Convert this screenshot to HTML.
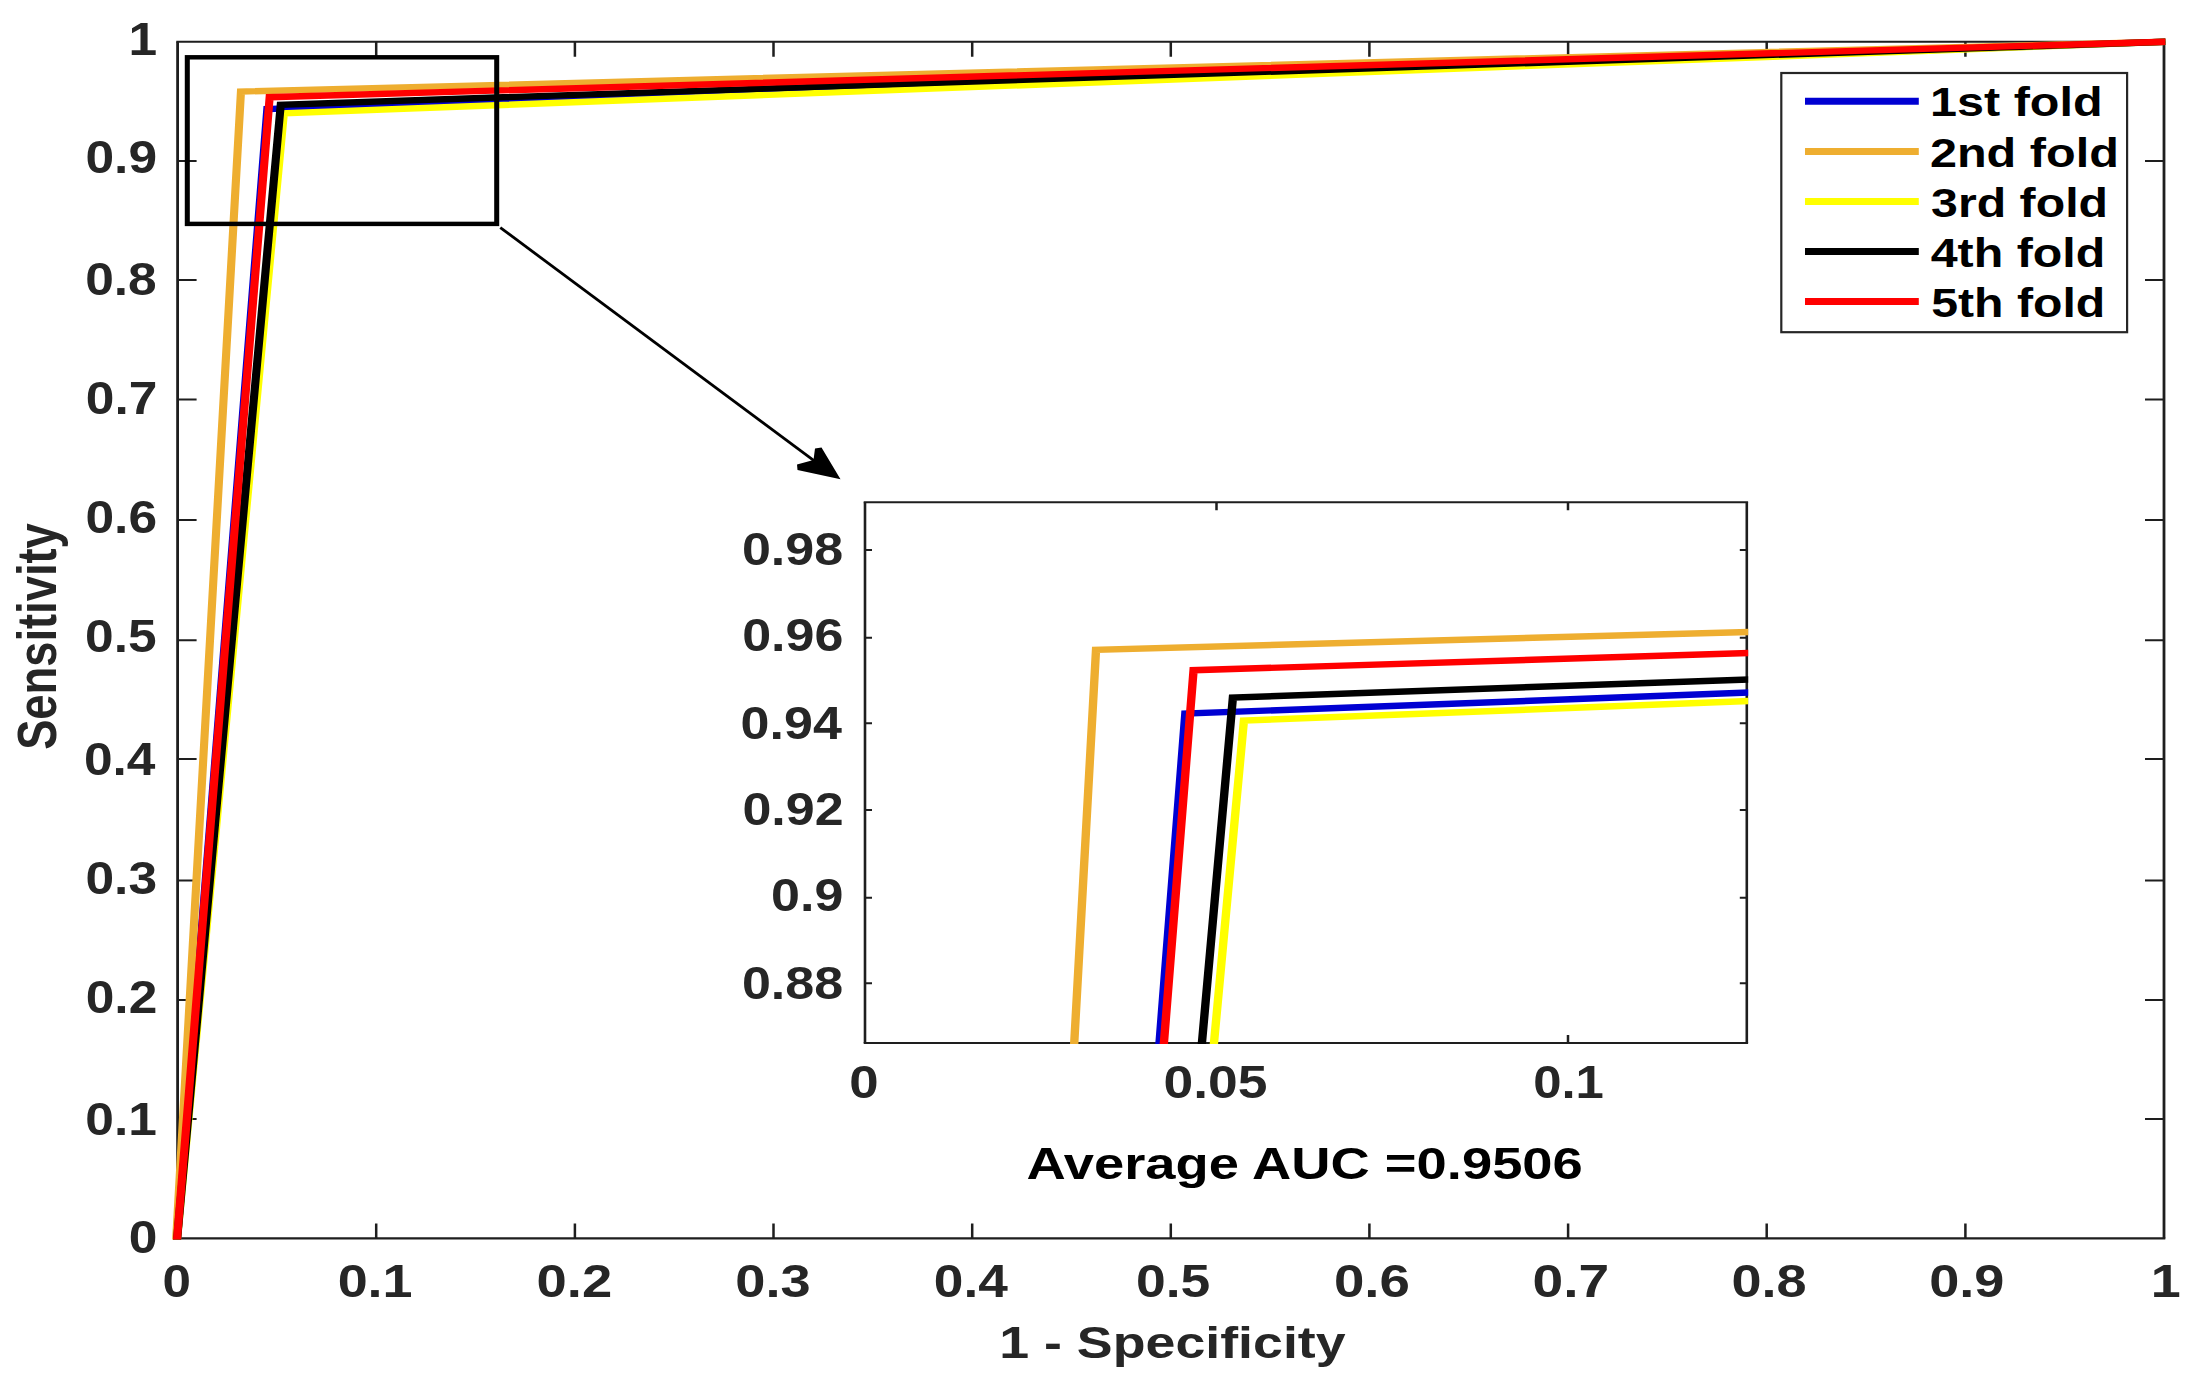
<!DOCTYPE html>
<html><head><meta charset="utf-8"><title>ROC</title>
<style>html,body{margin:0;padding:0;background:#fff}svg{display:block}text{font-family:"Liberation Sans",Arial,sans-serif;font-weight:bold}</style></head><body>
<svg width="2197" height="1386" viewBox="0 0 2197 1386">
<rect width="2197" height="1386" fill="#fff"/>
<g stroke="#1e1e1e" fill="none">
<path d="M176.29999999999998,41.8H2165.3M176.29999999999998,1238.4H2165.3" stroke-width="2.1"/>
<path d="M177.6,41.8V1238.4M2164.0,41.8V1238.4" stroke-width="2.8"/>
<path d="M376.2,1238.4v-15M376.2,41.8v15M574.9,1238.4v-15M574.9,41.8v15M773.5,1238.4v-15M773.5,41.8v15M972.2,1238.4v-15M972.2,41.8v15M1170.8,1238.4v-15M1170.8,41.8v15M1369.4,1238.4v-15M1369.4,41.8v15M1568.1,1238.4v-15M1568.1,41.8v15M1766.7,1238.4v-15M1766.7,41.8v15M1965.4,1238.4v-15M1965.4,41.8v15" stroke-width="2.5"/>
<path d="M177.6,1119.0h19M2164.0,1119.0h-19M177.6,999.9h19M2164.0,999.9h-19M177.6,880.6h19M2164.0,880.6h-19M177.6,759.0h19M2164.0,759.0h-19M177.6,640.2h19M2164.0,640.2h-19M177.6,520.1h19M2164.0,520.1h-19M177.6,399.5h19M2164.0,399.5h-19M177.6,279.9h19M2164.0,279.9h-19M177.6,161.0h19M2164.0,161.0h-19" stroke-width="2"/>
</g>
<text transform="translate(162.55,1296.50) scale(1.1243,1)" font-size="45.5" fill="#262626">0</text>
<text transform="translate(128.70,1253.40) scale(1.1310,1)" font-size="45.5" fill="#262626">0</text>
<text transform="translate(337.64,1296.50) scale(1.1850,1)" font-size="45.5" fill="#262626">0.1</text>
<text transform="translate(85.34,1134.60) scale(1.1310,1)" font-size="45.5" fill="#262626">0.1</text>
<text transform="translate(536.52,1296.50) scale(1.1962,1)" font-size="45.5" fill="#262626">0.2</text>
<text transform="translate(85.73,1012.70) scale(1.1310,1)" font-size="45.5" fill="#262626">0.2</text>
<text transform="translate(735.33,1296.50) scale(1.1917,1)" font-size="45.5" fill="#262626">0.3</text>
<text transform="translate(85.47,893.50) scale(1.1310,1)" font-size="45.5" fill="#262626">0.3</text>
<text transform="translate(933.87,1296.50) scale(1.1700,1)" font-size="45.5" fill="#262626">0.4</text>
<text transform="translate(83.93,774.60) scale(1.1310,1)" font-size="45.5" fill="#262626">0.4</text>
<text transform="translate(1135.96,1296.50) scale(1.1749,1)" font-size="45.5" fill="#262626">0.5</text>
<text transform="translate(85.09,652.20) scale(1.1310,1)" font-size="45.5" fill="#262626">0.5</text>
<text transform="translate(1333.91,1296.50) scale(1.2017,1)" font-size="45.5" fill="#262626">0.6</text>
<text transform="translate(85.47,533.20) scale(1.1310,1)" font-size="45.5" fill="#262626">0.6</text>
<text transform="translate(1532.59,1296.50) scale(1.2119,1)" font-size="45.5" fill="#262626">0.7</text>
<text transform="translate(85.86,414.20) scale(1.1310,1)" font-size="45.5" fill="#262626">0.7</text>
<text transform="translate(1731.44,1296.50) scale(1.1871,1)" font-size="45.5" fill="#262626">0.8</text>
<text transform="translate(85.21,295.40) scale(1.1310,1)" font-size="45.5" fill="#262626">0.8</text>
<text transform="translate(1929.13,1296.50) scale(1.1900,1)" font-size="45.5" fill="#262626">0.9</text>
<text transform="translate(85.47,173.40) scale(1.1310,1)" font-size="45.5" fill="#262626">0.9</text>
<text transform="translate(2150.73,1296.50) scale(1.1850,1)" font-size="45.5" fill="#262626">1</text>
<text transform="translate(128.38,54.60) scale(1.1310,1)" font-size="45.5" fill="#262626">1</text>
<text transform="translate(999.24,1358.20) scale(1.2103,1)" font-size="44.4" fill="#262626">1 - Specificity</text>
<text transform="translate(56.3,749.86) rotate(-90) scale(1,1.21)" font-size="45.32" fill="#262626">Sensitivity</text>
<clipPath id="mc"><rect x="169.6" y="33.8" width="1995.7" height="1205.8000000000002"/></clipPath>
<g clip-path="url(#mc)"><g fill="none" stroke-width="6.4" stroke-linejoin="miter" transform="scale(1.27,1)">
<polyline stroke="#0000d2" points="139.21,1242.40 210.49,109.14 1707.09,41.70"/>
<polyline stroke="#eeae30" points="138.58,1242.40 189.73,91.55 1707.09,41.70"/>
<polyline stroke="#ffff00" points="139.21,1242.40 223.52,113.26 1707.09,41.70"/>
<polyline stroke="#000000" points="139.21,1242.40 221.06,104.72 1707.09,41.70"/>
<polyline stroke="#ff0000" points="139.21,1242.40 212.32,97.18 1707.09,41.70"/>
</g></g>
<g transform="scale(1.13,1)"><rect x="165.75" y="57.3" width="273.81" height="166.6" fill="none" stroke="#000" stroke-width="4.45"/></g>
<path d="M500.3,227.6L818,463.6" stroke="#000" stroke-width="2.8" fill="none"/>
<path d="M840.5,479.3L821.5,447.5L815,448.5L813.5,460L797,464.5L797.5,470Z" fill="#000"/>
<rect x="865.0" y="502.3" width="881.8" height="540.7" fill="#fff"/>
<g stroke="#1e1e1e" fill="none">
<path d="M863.7,502.3H1748.1M863.7,1043.0H1748.1" stroke-width="2.1"/>
<path d="M865.0,502.3V1043.0M1746.8,502.3V1043.0" stroke-width="2.6"/>
<path d="M1216.5,1043.0v-8M1216.5,502.3v8M1568.0,1043.0v-8M1568.0,502.3v8" stroke-width="2.5"/>
<path d="M865.0,983.3h7M1746.8,983.3h-7M865.0,897.8h7M1746.8,897.8h-7M865.0,809.9h7M1746.8,809.9h-7M865.0,723.3h7M1746.8,723.3h-7M865.0,637.8h7M1746.8,637.8h-7M865.0,549.9h7M1746.8,549.9h-7" stroke-width="2"/>
</g>
<clipPath id="ic"><rect x="865.0" y="502.3" width="883.1999999999999" height="541.8000000000001"/></clipPath>
<g clip-path="url(#ic)"><g fill="none" stroke-width="6.45" transform="scale(1.3,1)">
<polyline stroke="#0000d2" points="665.23,4803.20 911.80,713.62 6076.00,463.20"/>
<polyline stroke="#eeae30" points="666.15,4803.20 843.09,649.82 6076.00,463.20"/>
<polyline stroke="#ffff00" points="665.23,4803.20 956.87,720.56 6076.00,463.20"/>
<polyline stroke="#000000" points="665.23,4803.20 948.38,697.56 6076.00,463.20"/>
<polyline stroke="#ff0000" points="665.23,4803.20 918.13,670.22 6076.00,463.20"/>
</g></g>
<text transform="translate(849.15,1098.40) scale(1.1600,1)" font-size="45.5" fill="#262626">0</text>
<text transform="translate(1163.56,1098.40) scale(1.1741,1)" font-size="45.5" fill="#262626">0.05</text>
<text transform="translate(1533.16,1098.40) scale(1.1184,1)" font-size="45.5" fill="#262626">0.1</text>
<text transform="translate(741.91,998.70) scale(1.1430,1)" font-size="45.5" fill="#262626">0.88</text>
<text transform="translate(771.03,911.10) scale(1.1430,1)" font-size="45.5" fill="#262626">0.9</text>
<text transform="translate(742.43,825.10) scale(1.1430,1)" font-size="45.5" fill="#262626">0.92</text>
<text transform="translate(740.61,738.70) scale(1.1430,1)" font-size="45.5" fill="#262626">0.94</text>
<text transform="translate(742.17,651.10) scale(1.1430,1)" font-size="45.5" fill="#262626">0.96</text>
<text transform="translate(741.91,565.10) scale(1.1430,1)" font-size="45.5" fill="#262626">0.98</text>
<text transform="translate(1026.54,1178.70) scale(1.2185,1)" font-size="44.6" fill="#000">Average AUC =0.9506</text>
<rect x="1781.3" y="73" width="345.8" height="259.2" fill="#fff" stroke="#262626" stroke-width="2.2"/>
<path d="M1805,101.3H1918.8" stroke="#0000d2" stroke-width="7" fill="none"/>
<text transform="translate(1930.07,116.40) scale(1.1987,1)" font-size="40.5" fill="#000">1st fold</text>
<path d="M1805,151.5H1918.8" stroke="#eeae30" stroke-width="7" fill="none"/>
<text transform="translate(1929.90,166.60) scale(1.2002,1)" font-size="40.5" fill="#000">2nd fold</text>
<path d="M1805,201.5H1918.8" stroke="#ffff00" stroke-width="7" fill="none"/>
<text transform="translate(1931.11,216.60) scale(1.1919,1)" font-size="40.5" fill="#000">3rd fold</text>
<path d="M1805,251.6H1918.8" stroke="#000000" stroke-width="7" fill="none"/>
<text transform="translate(1930.67,266.70) scale(1.1947,1)" font-size="40.5" fill="#000">4th fold</text>
<path d="M1805,301.5H1918.8" stroke="#ff0000" stroke-width="7" fill="none"/>
<text transform="translate(1931.13,316.60) scale(1.1915,1)" font-size="40.5" fill="#000">5th fold</text>
</svg></body></html>
